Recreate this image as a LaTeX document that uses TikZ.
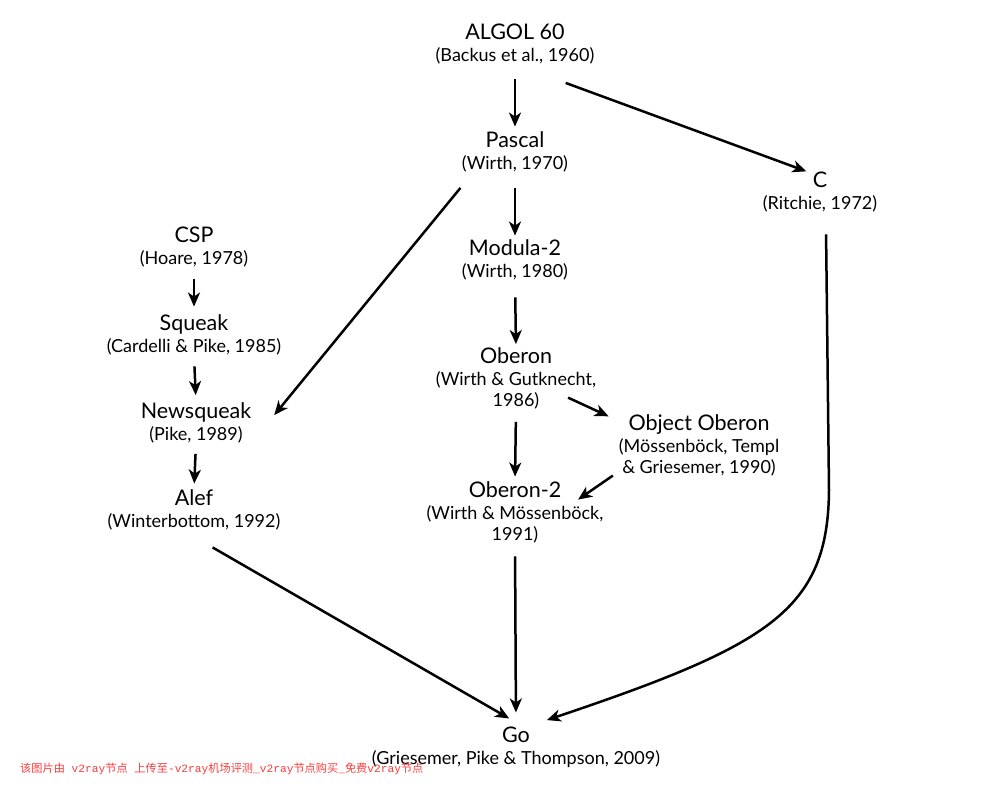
\documentclass[tikz,border=0pt]{standalone}
\usepackage{fontspec}
\setmainfont{Lato}
\newfontfamily\cjk{Noto Sans CJK SC}
\newfontfamily\wmmono{Liberation Mono}
\usetikzlibrary{arrows.meta}
\definecolor{wmred}{RGB}{250,60,60}
\newcommand\lname[1]{{\fontsize{21.5}{22}\selectfont #1}}
\newcommand\wmc[1]{{\cjk #1}}
\newcommand\wml[1]{{\wmmono #1}}
\tikzset{
  lang/.style={align=center, inner sep=0pt, font=\fontsize{18}{21}\selectfont},
  edge/.style={line width=2.5pt, -{Stealth[length=14pt,width=12pt,inset=4pt]}}
}

\begin{document}
\begin{tikzpicture}[x=1pt, y=-1pt]
			%%%%% START %%%%%
			\useasboundingbox (0, 0) rectangle (1005, 793);
			
			\node[lang] (algol) at (515, 44) {\lname{ALGOL 60}\\[1pt](Backus et al., 1960)};
			\node[lang] (pascal) at (515, 152) {\lname{Pascal}\\[1pt](Wirth, 1970)};
			\node[lang] (c) at (820, 192) {\lname{C}\\[1pt](Ritchie, 1972)};
			\node[lang] (csp) at (194, 247) {\lname{CSP}\\[1pt](Hoare, 1978)};
			\node[lang] (modula) at (515, 260) {\lname{Modula-2}\\[1pt](Wirth, 1980)};
			\node[lang] (squeak) at (194, 335) {\lname{Squeak}\\[1pt](Cardelli \& Pike, 1985)};
			\node[lang] (oberon) at (516, 378) {\lname{Oberon}\\[1pt](Wirth \& Gutknecht,\\1986)};
			\node[lang] (newsqueak) at (196, 422.5) {\lname{Newsqueak}\\[1pt](Pike, 1989)};
			\node[lang] (objoberon) at (699, 445.5) {\lname{Object Oberon}\\[1pt](Mössenböck, Templ\\\& Griesemer, 1990)};
			\node[lang] (alef) at (194, 510) {\lname{Alef}\\[1pt](Winterbottom, 1992)};
			\node[lang] (oberontwo) at (515, 512.5) {\lname{Oberon-2}\\[1pt](Wirth \& Mössenböck,\\1991)};
			\node[lang] (go) at (516, 747) {\lname{Go}\\[1pt](Griesemer, Pike \& Thompson, 2009)};
			
			\node[anchor=west, text=wmred, font=\fontsize{11.2}{12}\selectfont, inner sep=0pt] (mark) at (20, 769) {\wmc{该图片由}\wml{ v2ray}\wmc{节点}\wml{ }\wmc{上传至}\wml{-v2ray}\wmc{机场评测}\wml{\_v2ray}\wmc{节点购买}\wml{\_}\wmc{免费}\wml{v2ray}\wmc{节点}};
			
			\draw[edge, shorten <=15pt, shorten >=5pt] (algol.south) -- (pascal.north);
			\draw[edge, shorten <=54pt, shorten >=1pt] (algol.south) -- (c.122);
			\draw[edge, shorten <=20pt, shorten >=36pt] (pascal.206) -- (newsqueak.south east);
			\draw[edge, shorten <=16pt, shorten >=4pt] (pascal.south) -- (modula.north);
			\draw[edge, shorten <=17pt, shorten >=3pt] (modula.south) -- (oberon.north);
			\draw[edge, shorten <=-27pt, shorten >=11pt] (oberon.-22) -- (objoberon.163);
			\draw[edge, shorten <=13pt, shorten >=5pt] (oberon.south) -- (oberontwo.north);
			\draw[edge, shorten <=7pt, shorten >=-31pt] (objoberon.198) -- (oberontwo.19);
			\draw[edge, shorten <=13pt, shorten >=14pt] (oberontwo.south) -- (go.north);
			\draw[edge, shorten <=12pt, shorten >=8pt] (csp.south) -- (squeak.north);
			\draw[edge, shorten <=11pt, shorten >=7pt] (squeak.south) -- (newsqueak.north);
			\draw[edge, shorten <=11pt, shorten >=6pt] (newsqueak.south) -- (alef.north);
			\draw[edge, shorten <=34pt, shorten >=16pt] (alef.242) -- (go.71);
			\draw[edge, shorten <=22pt, shorten >=20pt] (c.-74) -- (829, 490) .. controls (828, 610) and (770, 645) .. (go.60);
			%%%%% END %%%%%
\end{tikzpicture}
\end{document}
